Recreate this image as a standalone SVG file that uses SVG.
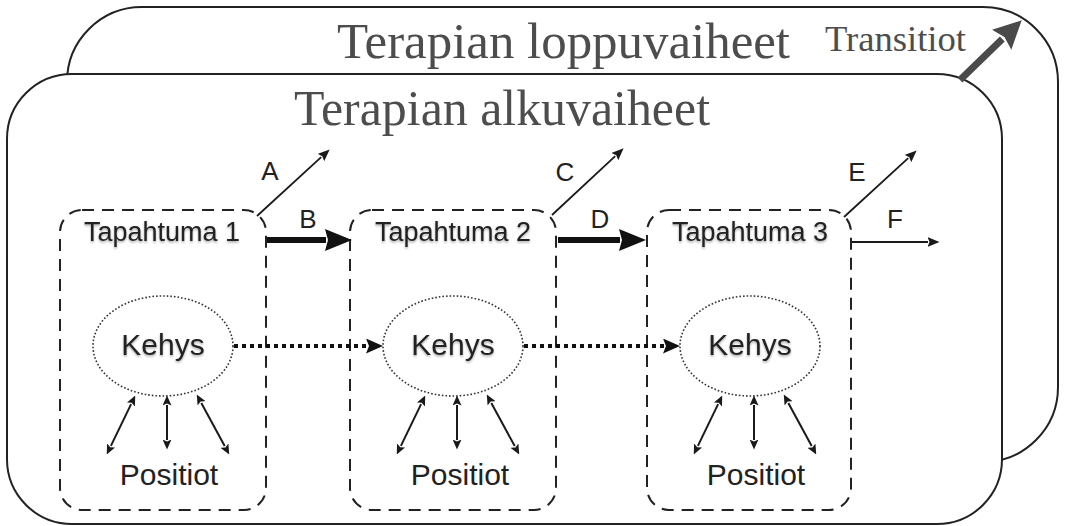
<svg xmlns="http://www.w3.org/2000/svg" width="1065" height="526" viewBox="0 0 1065 526">
  <style>
    .phase { fill: #ffffff; stroke: #222222; stroke-width: 2; }
    .title { font-family: "Liberation Serif", "Times New Roman", serif; fill: #4d4d4d; }
    .event { fill: none; stroke: #222222; stroke-width: 2; stroke-dasharray: 12 8; }
    .frame { fill: none; stroke: #333333; stroke-width: 1.6; stroke-dasharray: 1.6 2; }
    .sans { font-family: "Liberation Sans", Arial, Helvetica, sans-serif; fill: #222222; }
    .soft { filter: url(#textShadow); }
    .thin { fill: none; stroke: #1a1a1a; stroke-width: 1.8; }
    .bold { fill: none; stroke: #111111; stroke-width: 6; }
    .dots { fill: none; stroke: #111111; stroke-width: 4; stroke-dasharray: 4 4; }
    .link { fill: none; stroke: #1a1a1a; stroke-width: 2; }
  </style>
  <defs>
    <filter id="textShadow" x="-10%" y="-20%" width="120%" height="150%">
      <feDropShadow dx="0" dy="1.5" stdDeviation="1.2" flood-color="#000000" flood-opacity="0.35"/>
    </filter>
    <marker id="headThin" markerUnits="userSpaceOnUse" markerWidth="12" markerHeight="10" refX="0.5" refY="5" orient="auto">
      <path d="M0 0 L12 5 L0 10 L2 5 z" fill="#1a1a1a"/>
    </marker>
    <marker id="headBold" markerUnits="userSpaceOnUse" markerWidth="27" markerHeight="22" refX="1" refY="11" orient="auto">
      <path d="M0 0 L27 11 L0 22 L3 11 z" fill="#111111"/>
    </marker>
    <marker id="headDot" markerUnits="userSpaceOnUse" markerWidth="17" markerHeight="15" refX="1" refY="7.5" orient="auto">
      <path d="M0 0 L17 7.5 L0 15 L3 7.5 z" fill="#111111"/>
    </marker>
    <marker id="headLink" markerUnits="userSpaceOnUse" markerWidth="10" markerHeight="9" refX="0.5" refY="4.5" orient="auto-start-reverse">
      <path d="M0 0 L10 4.5 L0 9 L2 4.5 z" fill="#1a1a1a"/>
    </marker>
    <marker id="headTransit" markerUnits="userSpaceOnUse" markerWidth="28" markerHeight="28" refX="1" refY="14" orient="auto">
      <path d="M0 0 L28 14 L0 28 L4 14 z" fill="#4a4a4a"/>
    </marker>
  </defs>

  <!-- later therapy phase (back card) -->
  <g id="phase-late">
    <rect class="phase" x="67" y="7" width="991" height="455" rx="75" ry="75"/>
    <text class="title" x="337" y="58" font-size="50" textLength="453" lengthAdjust="spacingAndGlyphs">Terapian loppuvaiheet</text>
    <text class="title" x="825" y="51" font-size="35" textLength="141" lengthAdjust="spacingAndGlyphs">Transitiot</text>
  </g>

  <!-- early therapy phase (front card) -->
  <g id="phase-early">
    <rect class="phase" x="7" y="74" width="995" height="450" rx="65" ry="65"/>
    <text class="title" x="294" y="125" font-size="50" textLength="416" lengthAdjust="spacingAndGlyphs">Terapian alkuvaiheet</text>
  </g>

  <!-- event 1 -->
  <g id="event-1">
    <rect class="event" x="60" y="210" width="206" height="300" rx="22" ry="22"/>
    <text class="sans soft" x="162" y="241" font-size="27" text-anchor="middle">Tapahtuma 1</text>
    <ellipse class="frame" cx="163" cy="346" rx="70" ry="50"/>
    <text class="sans soft" x="163" y="355" font-size="30" text-anchor="middle">Kehys</text>
    <line class="link" x1="131.1" y1="404.1" x2="110.9" y2="445.9" marker-start="url(#headLink)" marker-end="url(#headLink)"/>
    <line class="link" x1="167" y1="405" x2="167" y2="440" marker-start="url(#headLink)" marker-end="url(#headLink)"/>
    <line class="link" x1="201.3" y1="402.9" x2="224.7" y2="446.1" marker-start="url(#headLink)" marker-end="url(#headLink)"/>
    <text class="sans" x="169" y="485" font-size="30" text-anchor="middle">Positiot</text>
  </g>

  <!-- event 2 -->
  <g id="event-2" transform="translate(290 0)">
    <rect class="event" x="60" y="210" width="206" height="300" rx="22" ry="22"/>
    <text class="sans soft" x="163" y="241" font-size="27" text-anchor="middle">Tapahtuma 2</text>
    <ellipse class="frame" cx="163" cy="346" rx="70" ry="50"/>
    <text class="sans soft" x="163" y="355" font-size="30" text-anchor="middle">Kehys</text>
    <line class="link" x1="131.1" y1="404.1" x2="110.9" y2="445.9" marker-start="url(#headLink)" marker-end="url(#headLink)"/>
    <line class="link" x1="167" y1="405" x2="167" y2="440" marker-start="url(#headLink)" marker-end="url(#headLink)"/>
    <line class="link" x1="201.3" y1="402.9" x2="224.7" y2="446.1" marker-start="url(#headLink)" marker-end="url(#headLink)"/>
    <text class="sans" x="170" y="485" font-size="30" text-anchor="middle">Positiot</text>
  </g>

  <!-- event 3 -->
  <g id="event-3" transform="translate(587 0)">
    <rect class="event" x="60" y="210" width="204" height="300" rx="22" ry="22"/>
    <text class="sans soft" x="163" y="241" font-size="27" text-anchor="middle">Tapahtuma 3</text>
    <ellipse class="frame" cx="163" cy="346" rx="70" ry="50"/>
    <text class="sans soft" x="163" y="355" font-size="30" text-anchor="middle">Kehys</text>
    <line class="link" x1="131.1" y1="404.1" x2="110.9" y2="445.9" marker-start="url(#headLink)" marker-end="url(#headLink)"/>
    <line class="link" x1="167" y1="405" x2="167" y2="440" marker-start="url(#headLink)" marker-end="url(#headLink)"/>
    <line class="link" x1="201.3" y1="402.9" x2="224.7" y2="446.1" marker-start="url(#headLink)" marker-end="url(#headLink)"/>
    <text class="sans" x="169" y="485" font-size="30" text-anchor="middle">Positiot</text>
  </g>

  <!-- connectors -->
  <g id="connectors">
    <!-- transitions to the later phase -->
    <line x1="960" y1="80" x2="1002.3" y2="39.1" stroke="#4a4a4a" stroke-width="7" marker-end="url(#headTransit)"/>
    <!-- exits A, C, E -->
    <line class="thin" x1="257" y1="216" x2="321.2" y2="157.2" marker-end="url(#headThin)"/>
    <line class="thin" x1="552" y1="215" x2="615.2" y2="156.2" marker-end="url(#headThin)"/>
    <line class="thin" x1="844" y1="217" x2="908.2" y2="158.2" marker-end="url(#headThin)"/>
    <!-- continuations B, D, F -->
    <line class="bold" x1="267" y1="240" x2="326" y2="240" marker-end="url(#headBold)"/>
    <line class="bold" x1="558" y1="240" x2="620" y2="240" marker-end="url(#headBold)"/>
    <line class="thin" x1="852" y1="242" x2="928" y2="242" marker-end="url(#headThin)"/>
    <!-- frame carried over -->
    <line class="dots" x1="234" y1="346" x2="367" y2="346" marker-end="url(#headDot)"/>
    <line class="dots" x1="524" y1="346" x2="664" y2="346" marker-end="url(#headDot)"/>
    <!-- connector labels -->
    <text class="sans" x="270" y="180" font-size="26" text-anchor="middle">A</text>
    <text class="sans" x="308" y="228" font-size="26" text-anchor="middle">B</text>
    <text class="sans" x="565" y="181" font-size="26" text-anchor="middle">C</text>
    <text class="sans" x="600" y="228" font-size="26" text-anchor="middle">D</text>
    <text class="sans" x="857" y="181" font-size="26" text-anchor="middle">E</text>
    <text class="sans" x="895" y="228" font-size="26" text-anchor="middle">F</text>
  </g>
</svg>
